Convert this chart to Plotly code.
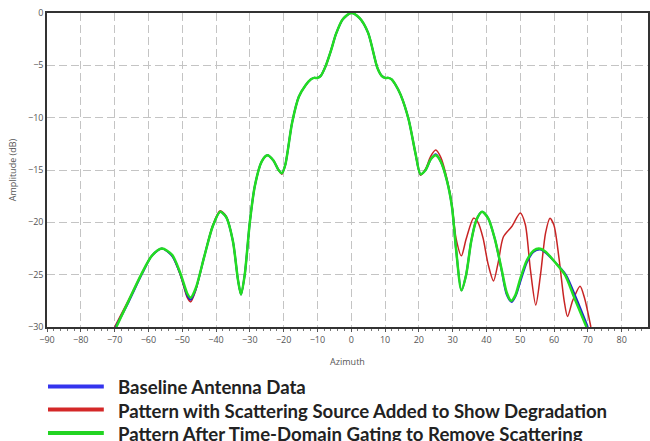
import plotly.graph_objects as go

# ---- data ----
az_gated = [-69.5, -66, -62, -59, -56, -53, -50.5, -48.5, -47.5, -46, -43.5, -41, -38.8, -37, -35, -33.5,
            -32.6, -31.5, -30, -28.5, -26.5, -24.8, -23, -21.5, -20.5, -19.5, -17.5, -15.5, -13.5, -12, -11,
            -10, -9, -7.6, -6, -4.5, -2.5, 0, 2.5, 5, 7.7, 9, 10, 11, 12, 13, 14.6, 17, 19, 20.5, 22, 23.5, 25,
            26.5, 28.3, 29.8, 31, 32.6, 34, 35.5, 37, 38.7, 40.5, 42.5, 44.5, 46, 47.3, 48.5, 50, 52, 54,
            55.5, 57.5, 60, 63.2, 66, 69.6]
db_gated = [-30.0, -27.6, -24.9, -23.2, -22.5, -23.1, -24.9, -26.8, -27.2, -26.3, -23.3, -20.4, -19.0, -19.5,
            -21.8, -25.5, -26.9, -25.0, -20.0, -16.5, -14.2, -13.6, -14.1, -15.0, -15.3, -14.5, -10.5, -8.0,
            -6.9, -6.35, -6.2, -6.2, -6.0, -5.1, -3.6, -2.0, -0.6, 0.0, -0.5, -1.9, -5.2, -6.0, -6.2, -6.2,
            -6.35, -6.8, -7.8, -10.2, -13.4, -15.4, -15.0, -14.0, -13.6, -14.2, -16.0, -18.5, -22.5, -26.5,
            -25.0, -21.8, -19.8, -19.0, -19.6, -21.6, -24.5, -26.7, -27.5, -27.0, -25.4, -23.6, -22.7, -22.5,
            -22.8, -23.7, -25.0, -27.2, -30.0]

az_baseline = [-69.7, -66, -62, -59, -56, -53, -50.5, -48.5, -47.5, -46, -43.5, -41, -38.8, -37, -35, -33.5,
               -32.6, -31.5, -30, -28.5, -26.5, -24.8, -23, -21.5, -20.5, -19.5, -17.5, -15.5, -13.5, -12, -11,
               -10, -9, -7.6, -6, -4.5, -2.5, 0, 2.5, 5, 7.7, 9, 10, 11, 12, 13, 14.6, 17, 19, 20.5, 22, 23.5, 25,
               26.5, 28.3, 29.8, 31, 32.6, 34, 35.5, 37, 38.7, 40.5, 42.5, 44.5, 46, 47.5, 48.7, 50, 52, 54,
               56, 57.5, 60, 63.5, 66.5, 70.0]
db_baseline = [-30.0, -27.7, -25.0, -23.2, -22.5, -23.2, -25.0, -27.0, -27.4, -26.4, -23.3, -20.4, -19.0, -19.5,
               -21.8, -25.5, -26.9, -25.0, -20.0, -16.5, -14.2, -13.6, -14.1, -15.0, -15.3, -14.5, -10.5, -8.0,
               -6.9, -6.35, -6.2, -6.2, -6.0, -5.1, -3.6, -2.0, -0.6, 0.0, -0.5, -1.9, -5.2, -6.0, -6.2, -6.2,
               -6.35, -6.8, -7.8, -10.2, -13.4, -15.4, -15.0, -14.0, -13.5, -14.2, -16.0, -18.5, -22.5, -26.5,
               -25.0, -21.8, -19.8, -19.0, -19.6, -21.6, -24.6, -26.9, -27.6, -27.0, -25.7, -23.8, -22.8, -22.6,
               -22.9, -23.7, -25.0, -27.2, -30.0]

az_scatter = [-70.0, -66, -62, -59, -56, -53, -50.5, -48.5, -47.5, -46, -43.5, -41, -38.8, -37, -35, -33.5,
              -32.6, -31.5, -30, -28.5, -26.5, -24.8, -23, -21.5, -20.5, -19.5, -17.5, -15.5, -13.5, -12, -11,
              -10, -9, -7.6, -6, -4.5, -2.5, 0, 2.5, 5, 7.7, 9, 10, 11, 12, 13, 14.6, 17, 19, 20.5, 22, 23.5, 25,
              26.5, 28.3, 29.8, 31, 32.6, 34, 36.2, 37.5, 39, 40.5, 42.1, 43.5, 45, 47.5, 50, 51.5, 53, 54.6,
              56, 57.5, 58.8, 60, 61.5, 63, 64, 65.5, 67.7, 69, 70.9]
db_scatter = [-30.0, -27.5, -24.9, -23.2, -22.5, -23.2, -25.1, -27.2, -27.6, -26.5, -23.3, -20.3, -18.9, -19.4,
              -21.8, -25.5, -26.9, -25.0, -20.0, -16.5, -14.2, -13.6, -14.1, -15.0, -15.4, -14.5, -10.5, -8.0,
              -6.9, -6.35, -6.2, -6.2, -6.0, -5.1, -3.6, -2.0, -0.6, 0.0, -0.5, -1.9, -5.2, -6.0, -6.2, -6.2,
              -6.35, -6.8, -7.8, -10.2, -13.4, -15.5, -14.9, -13.7, -13.1, -13.8, -15.8, -18.3, -21.5, -23.2,
              -21.6, -19.6, -20.0, -21.5, -24.0, -25.6, -23.8, -21.4, -20.4, -19.1, -20.2, -24.5, -27.9, -25.0,
              -21.0, -19.6, -20.3, -23.5, -27.5, -29.0, -27.5, -26.1, -27.2, -30.0]

x_ticks = [-90, -80, -70, -60, -50, -40, -30, -20, -10, 0, 10, 20, 30, 40, 50, 60, 70, 80]
y_ticks = [0, -5, -10, -15, -20, -25, -30]

series_names = ["Baseline Antenna Data",
                "Pattern with Scattering Source Added to Show Degradation",
                "Pattern After Time-Domain Gating to Remove Scattering"]
series_colors = ["#3434ee", "#d42828", "#22d422"]

fig = go.Figure()
fig.add_trace(go.Scatter(x=az_scatter, y=db_scatter, mode="lines", name=series_names[1],
                         line=dict(color="#c82424", width=1.5, shape="spline", smoothing=0.75)))
fig.add_trace(go.Scatter(x=az_baseline, y=db_baseline, mode="lines", name=series_names[0],
                         line=dict(color="#2222cc", width=2, shape="spline", smoothing=0.75)))
fig.add_trace(go.Scatter(x=az_gated, y=db_gated, mode="lines", name=series_names[2],
                         line=dict(color="#22dd22", width=2.5, shape="spline", smoothing=0.75)))

tick_font = dict(family="Open Sans", size=9, color="#555")

fig.update_layout(
    width=650, height=441,
    margin=dict(l=47, r=0, t=13, b=114),
    paper_bgcolor="white", plot_bgcolor="white",
    showlegend=False,
    xaxis=dict(range=[-90, 87.8], tickvals=x_ticks, tickfont=tick_font,
               showgrid=True, gridcolor="#c4c4c4", griddash="8px,4px", gridwidth=1,
               showline=True, linecolor="#333", linewidth=1.5, mirror=True,
               ticks="outside", ticklen=3, tickcolor="#555",
               minor=dict(dtick=2, tick0=0, ticks="outside", ticklen=2, tickcolor="#777", showgrid=False),
               zeroline=False,
               title=dict(text="Azimuth", font=dict(family="Open Sans", size=9, color="#555"), standoff=14)),
    yaxis=dict(range=[-30, 0], tickvals=y_ticks, tickfont=tick_font,
               showgrid=True, gridcolor="#c4c4c4", griddash="8px,4px", gridwidth=1,
               showline=True, linecolor="#333", linewidth=1.5, mirror=True,
               ticks="", zeroline=False,
               title=dict(text="Amplitude (dB)", font=dict(family="Open Sans", size=9, color="#555"), standoff=10)),
)

# partially visible "90" tick label past the right edge
fig.add_annotation(text="90", xref="paper", yref="paper", x=(90 + 90) / (87.8 + 90), y=0,
                   xanchor="center", yanchor="top", yshift=-3, showarrow=False, font=tick_font)

# manual legend
legend_order = [0, 1, 2]
leg_y = [386.5, 409.5, 433]
for i, idx in enumerate(legend_order):
    yp = 1 - (leg_y[i] - 13) / (441 - 13 - 114)
    fig.add_shape(type="line", xref="paper", yref="paper",
                  x0=(48 - 47) / 603, x1=(104 - 47) / 603, y0=yp, y1=yp,
                  line=dict(color=series_colors[idx], width=4))
    fig.add_annotation(text=series_names[idx], xref="paper", yref="paper",
                       x=(116 - 47) / 603, y=yp, xanchor="left", yanchor="middle", showarrow=False,
                       yshift=-1,
                       font=dict(family="Lato", size=18.6, color="#222", weight="bold"))

fig.write_html("out.html", config={"displayModeBar": False},
               post_script="document.body.style.margin='0';document.body.style.overflow='hidden';")
